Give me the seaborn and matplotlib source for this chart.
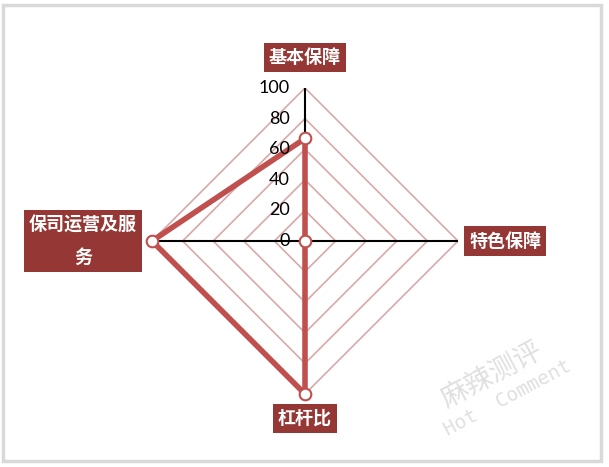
import numpy as np
import pandas as pd
import matplotlib
matplotlib.use("Agg")
import matplotlib.pyplot as plt
import seaborn as sns

# chart data
categories = ["基本保障", "特色保障", "杠杆比", "保司运营及服务"]
scores = [67, 0, 100, 100]
ring_levels = [20, 40, 60, 80, 100]
tick_labels = ["0", "20", "40", "60", "80", "100"]

RED = "#C0504D"
BOX = "#953735"
GRID = "#D8A9A8"

sns.set_theme(style="white")
plt.rcParams["font.family"] = ["Noto Sans CJK SC", "DejaVu Sans"]

fig = plt.figure(figsize=(6.09, 4.67), dpi=100)
fig.patch.set_facecolor("white")

# outer light frame like the screenshot
fig.add_artist(plt.Rectangle((3 / 609, 6 / 467), 598 / 609, 456 / 467,
                             transform=fig.transFigure, fill=False,
                             edgecolor="#D9D9D9", linewidth=2.5))

ax = fig.add_axes([152 / 609, 73 / 467, 306 / 609, 306 / 467], projection="polar")
ax.set_theta_zero_location("N")
ax.set_theta_direction(-1)
ax.grid(False)
ax.spines["polar"].set_visible(False)
ax.set_facecolor("none")

n = len(categories)
theta = np.arange(n) * 2 * np.pi / n
theta_closed = np.append(theta, 2 * np.pi)

# diamond grid
for lv in ring_levels:
    ax.plot(theta_closed, [lv] * (n + 1), color=GRID, lw=1.2, zorder=1)

# axis cross
for t in theta:
    ax.plot([t, t], [0, 100], color="black", lw=1.5, zorder=2)

# series (closed polygon)
df = pd.DataFrame({"theta": theta_closed, "score": scores + [scores[0]]})
sns.lineplot(data=df, x="theta", y="score", sort=False, estimator=None, ax=ax,
             color=RED, lw=4, zorder=3, legend=False)
ax.scatter(theta, scores, s=70, facecolor="white", edgecolor=RED,
           linewidth=1.5, zorder=4, clip_on=False)
ax.set_xlabel("")
ax.set_ylabel("")
ax.set_xticks([])
ax.set_yticks([])
ax.set_ylim(0, 100)

# radial tick labels next to the top axis
for i, lab in enumerate(tick_labels):
    r = i * 20
    ax.annotate(lab, xy=(0, r), xytext=(-11, 0), textcoords="offset points",
                ha="right", va="center", fontsize=13, family="Lato",
                color="black", annotation_clip=False)

# category labels on dark red boxes
label_pos = [(0, 120), (np.pi / 2, 131), (np.pi, 116), (3 * np.pi / 2, 145)]
label_text = [categories[0], categories[1], categories[2], "保司运营及服\n务"]
for (t, r), txt in zip(label_pos, label_text):
    ax.text(t, r, txt, ha="center", va="center", fontsize=13, weight="bold",
            color="white", linespacing=1.9, clip_on=False,
            bbox=dict(boxstyle="square,pad=0.28", facecolor=BOX, edgecolor="none"))

# watermark
fig.text(492 / 609, 1 - 375 / 467, "麻辣测评", rotation=28, fontsize=20,
         color="#E0E0E0", ha="center", va="center")
fig.text(508 / 609, 1 - 398 / 467, "Hot  Comment", rotation=28, fontsize=14,
         family="DejaVu Sans Mono", color="#E0E0E0", ha="center", va="center")

fig.savefig("out.png", dpi=100)
